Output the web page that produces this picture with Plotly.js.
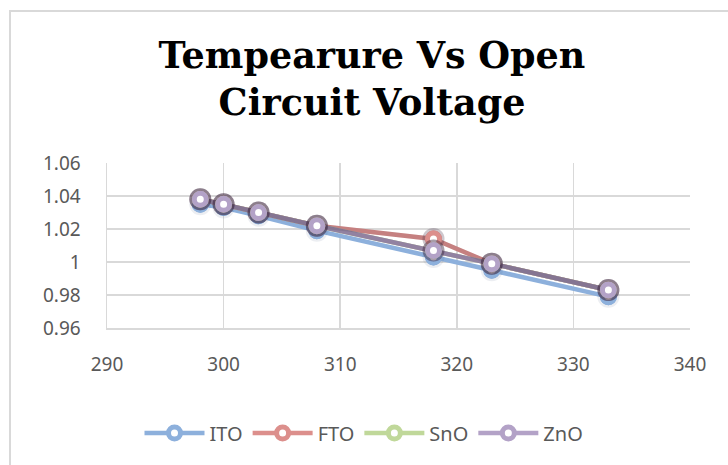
<!DOCTYPE html>
<html><head><meta charset="utf-8">
<script src="https://cdn.plot.ly/plotly-3.0.1.min.js"></script>
<style>
html,body{margin:0;padding:0;background:#fff;}
#wrap{position:relative;width:728px;height:465px;overflow:hidden;}
#frame{position:absolute;left:9px;top:10px;width:760px;height:500px;border-left:2px solid #d9d9d9;border-top:2px solid #d9d9d9;box-sizing:border-box;pointer-events:none;}
#chart{position:absolute;left:0;top:0;width:728px;height:465px;}
</style></head>
<body><div id="wrap"><div id="chart"></div><div id="frame"></div></div>
<script>
const temperature = [298, 300, 303, 308, 318, 323, 333];
const ito = [1.035, 1.033, 1.028, 1.019, 1.003, 0.995, 0.979];
const fto = [1.038, 1.035, 1.030, 1.022, 1.014, 0.999, 0.983];
const sno = [1.038, 1.035, 1.030, 1.022, 1.007, 0.999, 0.983];
const zno = [1.038, 1.035, 1.030, 1.022, 1.007, 0.999, 0.983];
const seriesNames = ['ITO', 'FTO', 'SnO', 'ZnO'];
const seriesColors = ['#8db0dc', '#dc8f8c', '#c0d89a', '#b3a2c7'];
const xTicks = [290, 300, 310, 320, 330, 340];
const yTicks = [0.96, 0.98, 1, 1.02, 1.04, 1.06];
const yTickText = ['0.96', '0.98', '1', '1.02', '1.04', '1.06'];

const values = [ito, fto, sno, zno];
const shadeLine = ['rgba(60,40,60,0)', 'rgba(60,40,60,0.14)', 'rgba(60,40,60,0.14)', 'rgba(60,40,60,0.14)'];
const shadeMarker = ['rgba(70,90,130,0.10)', 'rgba(60,40,60,0.26)', 'rgba(60,40,60,0.26)', 'rgba(60,40,60,0.26)'];

const traces = [];
// main series (legend entries)
values.forEach((v, i) => traces.push({
  type: 'scatter', mode: 'lines+markers', name: seriesNames[i],
  x: temperature, y: v,
  line: {color: seriesColors[i], width: 4.5},
  marker: {symbol: 'circle', size: 12, color: '#ffffff', line: {color: seriesColors[i], width: 5}}
}));
// shaded line overlay (the original's soft shadow effect darkens stacked lines)
values.forEach((v, i) => traces.push({
  type: 'scatter', mode: 'lines', name: seriesNames[i] + ' shade', showlegend: false, hoverinfo: 'skip',
  x: temperature, y: v, line: {color: shadeLine[i], width: 4.5}
}));
// markers redrawn on top, each with its shadow halo
values.forEach((v, i) => {
  traces.push({
    type: 'scatter', mode: 'markers', name: seriesNames[i] + ' halo', showlegend: false, hoverinfo: 'skip',
    x: temperature, y: v,
    marker: {symbol: 'circle', size: 22, color: shadeMarker[i], line: {width: 0}}
  });
  traces.push({
    type: 'scatter', mode: 'markers', name: seriesNames[i] + ' marker', showlegend: false, hoverinfo: 'skip',
    x: temperature, y: v,
    marker: {symbol: 'circle', size: 12, color: '#ffffff', line: {color: seriesColors[i], width: 5}}
  });
});

const layout = {
  width: 728, height: 465,
  paper_bgcolor: '#ffffff', plot_bgcolor: '#ffffff',
  margin: {l: 107, r: 38, t: 163, b: 137},
  title: {
    text: 'Tempearure Vs Open<br>Circuit Voltage',
    font: {family: 'DejaVu Serif', size: 36.5, color: '#000000', weight: 'bold'},
    x: 372/728, xref: 'container', xanchor: 'center',
    y: 1 - 68/465, yref: 'container', yanchor: 'middle'
  },
  xaxis: {
    range: [290, 340], tickvals: xTicks, ticktext: xTicks.map(String),
    showgrid: true, gridcolor: '#d9d9d9', gridwidth: 1.5,
    showline: true, linecolor: '#d9d9d9', linewidth: 1.5,
    zeroline: false, ticks: '', ticklabelstandoff: 19,
    tickfont: {family: 'Noto Sans', size: 19, color: '#595959'}
  },
  yaxis: {
    range: [0.96, 1.06], tickvals: yTicks, ticktext: yTickText,
    showgrid: true, gridcolor: '#d9d9d9', gridwidth: 1.5,
    showline: true, linecolor: '#d9d9d9', linewidth: 1.5,
    zeroline: false, ticks: '', ticklabelstandoff: 21,
    tickfont: {family: 'Noto Sans', size: 19, color: '#595959'}
  },
  showlegend: true,
  legend: {
    orientation: 'h', x: 0.5, xref: 'container', xanchor: 'center',
    y: 1 - 433/465, yref: 'container', yanchor: 'middle',
    font: {family: 'Noto Sans', size: 20, color: '#595959'},
    itemwidth: 60, tracegroupgap: 0
  }
};
Plotly.newPlot('chart', traces, layout, {displayModeBar: false, staticPlot: true});
</script></body></html>
